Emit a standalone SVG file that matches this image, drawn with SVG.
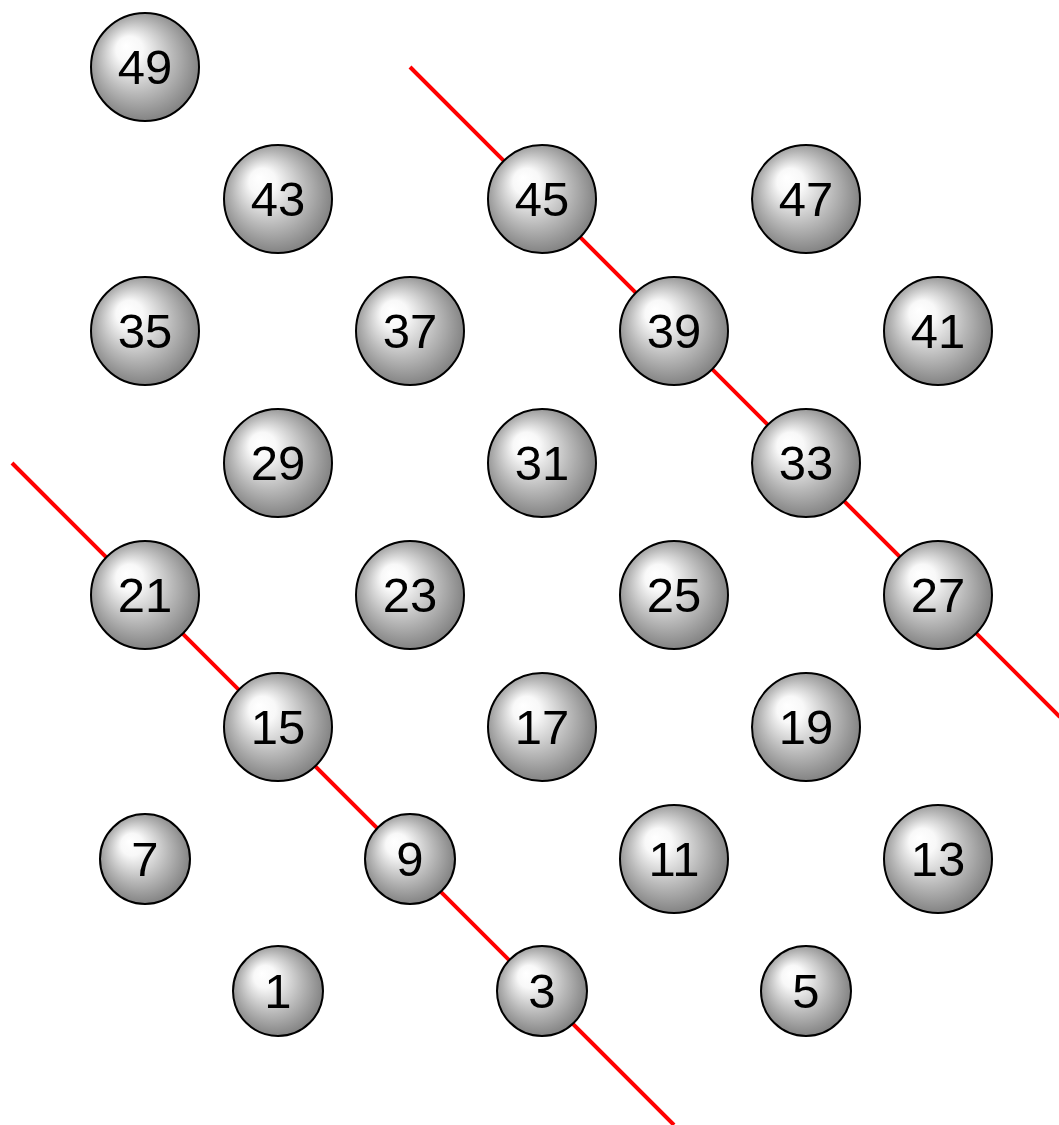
<svg xmlns="http://www.w3.org/2000/svg" width="1059" height="1125" viewBox="0 0 1059 1125">
<defs>
<radialGradient id="ball" cx="0.5" cy="0.5" r="0.62" fx="0.32" fy="0.3">
<stop offset="0" stop-color="#ffffff"/>
<stop offset="0.2" stop-color="#f8f8f8"/>
<stop offset="0.55" stop-color="#b8b8b8"/>
<stop offset="1" stop-color="#6a6a6a"/>
</radialGradient>
</defs>
<style>
.b{fill:url(#ball);stroke:#000;stroke-width:2}
.t{font-family:"Liberation Sans",Arial,sans-serif;font-size:49px;text-anchor:middle;fill:#000}
.l{stroke:#ff0000;stroke-width:4;fill:none}
</style>
<rect width="1059" height="1125" fill="#fff"/>
<g id="connectors">
<line class="l" x1="410" y1="67" x2="1060" y2="717"/>
<line class="l" x1="12" y1="463" x2="674" y2="1125"/>
</g>
<g id="n49"><circle class="b" cx="145" cy="67" r="54"/><text class="t" x="145" y="84">49</text></g>
<g id="n43"><circle class="b" cx="278" cy="199" r="54"/><text class="t" x="278" y="216">43</text></g>
<g id="n45"><circle class="b" cx="542" cy="199" r="54"/><text class="t" x="542" y="216">45</text></g>
<g id="n47"><circle class="b" cx="806" cy="199" r="54"/><text class="t" x="806" y="216">47</text></g>
<g id="n35"><circle class="b" cx="145" cy="331" r="54"/><text class="t" x="145" y="348">35</text></g>
<g id="n37"><circle class="b" cx="410" cy="331" r="54"/><text class="t" x="410" y="348">37</text></g>
<g id="n39"><circle class="b" cx="674" cy="331" r="54"/><text class="t" x="674" y="348">39</text></g>
<g id="n41"><circle class="b" cx="938" cy="331" r="54"/><text class="t" x="938" y="348">41</text></g>
<g id="n29"><circle class="b" cx="278" cy="463" r="54"/><text class="t" x="278" y="480">29</text></g>
<g id="n31"><circle class="b" cx="542" cy="463" r="54"/><text class="t" x="542" y="480">31</text></g>
<g id="n33"><circle class="b" cx="806" cy="463" r="54"/><text class="t" x="806" y="480">33</text></g>
<g id="n21"><circle class="b" cx="145" cy="595" r="54"/><text class="t" x="145" y="612">21</text></g>
<g id="n23"><circle class="b" cx="410" cy="595" r="54"/><text class="t" x="410" y="612">23</text></g>
<g id="n25"><circle class="b" cx="674" cy="595" r="54"/><text class="t" x="674" y="612">25</text></g>
<g id="n27"><circle class="b" cx="938" cy="595" r="54"/><text class="t" x="938" y="612">27</text></g>
<g id="n15"><circle class="b" cx="278" cy="727" r="54"/><text class="t" x="278" y="744">15</text></g>
<g id="n17"><circle class="b" cx="542" cy="727" r="54"/><text class="t" x="542" y="744">17</text></g>
<g id="n19"><circle class="b" cx="806" cy="727" r="54"/><text class="t" x="806" y="744">19</text></g>
<g id="n7"><circle class="b" cx="145" cy="859" r="45"/><text class="t" x="145" y="876">7</text></g>
<g id="n9"><circle class="b" cx="410" cy="859" r="45"/><text class="t" x="410" y="876">9</text></g>
<g id="n11"><circle class="b" cx="674" cy="859" r="54"/><text class="t" x="674" y="876">11</text></g>
<g id="n13"><circle class="b" cx="938" cy="859" r="54"/><text class="t" x="938" y="876">13</text></g>
<g id="n1"><circle class="b" cx="278" cy="991" r="45"/><text class="t" x="278" y="1008">1</text></g>
<g id="n3"><circle class="b" cx="542" cy="991" r="45"/><text class="t" x="542" y="1008">3</text></g>
<g id="n5"><circle class="b" cx="806" cy="991" r="45"/><text class="t" x="806" y="1008">5</text></g>
</svg>
